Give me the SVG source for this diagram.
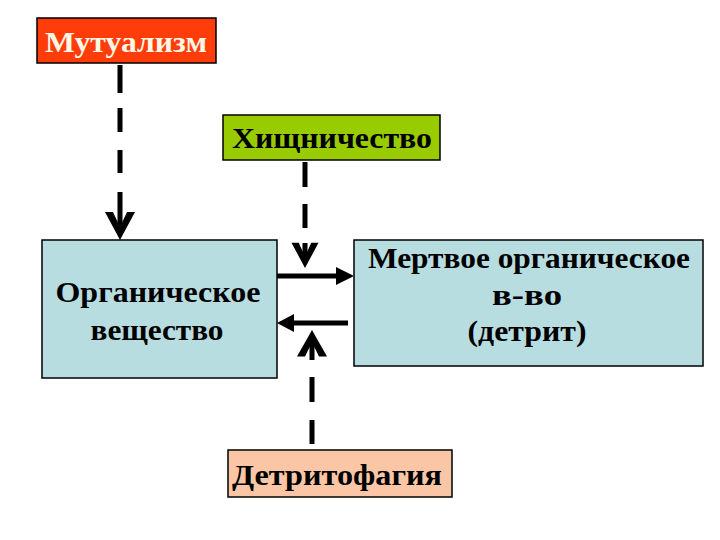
<svg xmlns="http://www.w3.org/2000/svg" width="720" height="540" viewBox="0 0 720 540">
<style>
.box{stroke:#000;stroke-width:1.5}
.t{font-family:"Liberation Serif","Times New Roman",serif;font-weight:bold;text-anchor:middle;font-size:30px}
.dash{stroke:#000;stroke-width:5;fill:none}
.head{fill:#000}
</style>
<defs>
<path id="chev" d="M-15,-28 L-7,-28 L0,-13 L7,-28 L15,-28 L0,0 Z"/>
</defs>
<rect width="720" height="540" fill="#fff"/>
<g id="connectors">
<g id="c-mutualism">
<path class="dash" d="M120,65 V93 M120,108 V132 M120,150 V173 M120,192 V232"/>
<use href="#chev" class="head" transform="translate(120,240)"/>
</g>
<g id="c-predation">
<path class="dash" d="M305,162 V187 M305,204 V228 M305,243 V262"/>
<use href="#chev" class="head" transform="translate(305,268) scale(0.9)"/>
</g>
<g id="c-detritophagy">
<path class="dash" d="M312,444 V420 M312,402 V377 M312,360 V338"/>
<use href="#chev" class="head" transform="translate(312,330) rotate(180) scale(1,0.95)"/>
</g>
<g id="c-right">
<path d="M270,276 H338" stroke="#000" stroke-width="5"/>
<path class="head" d="M336,267 L354,276 L336,285 Z"/>
</g>
<g id="c-left">
<path d="M348,323 H292" stroke="#000" stroke-width="5"/>
<path class="head" d="M294,314 L277,323 L294,332 Z"/>
</g>
</g>
<g id="n-mutualism">
<rect class="box" x="37" y="18" width="179" height="45" fill="#FF3D0A"/>
<text class="t" x="126" y="52" textLength="162" lengthAdjust="spacingAndGlyphs" fill="#FFF6E4">Мутуализм</text>
</g>
<g id="n-predation">
<rect class="box" x="223" y="115" width="217" height="45" fill="#99CC00"/>
<text class="t" x="332" y="148" textLength="200" lengthAdjust="spacingAndGlyphs" fill="#000">Хищничество</text>
</g>
<g id="n-organic">
<rect class="box" x="42" y="240" width="235" height="138" fill="#B8DDE1"/>
<text class="t" x="158" y="302" textLength="205" lengthAdjust="spacingAndGlyphs" fill="#000">Органическое</text>
<text class="t" x="157" y="340" textLength="133" lengthAdjust="spacingAndGlyphs" fill="#000">вещество</text>
</g>
<g id="n-dead">
<rect class="box" x="354" y="240" width="349" height="126" fill="#B8DDE1"/>
<text class="t" x="529" y="268" textLength="322" lengthAdjust="spacingAndGlyphs" fill="#000">Мертвое органическое</text>
<text class="t" x="527" y="305" textLength="70" lengthAdjust="spacingAndGlyphs" fill="#000">в-во</text>
<text class="t" x="527" y="341" textLength="119" lengthAdjust="spacingAndGlyphs" fill="#000">(детрит)</text>
</g>
<g id="n-detritophagy">
<rect class="box" x="228" y="450" width="224" height="47" fill="#FAC6A5"/>
<text class="t" x="337" y="485" textLength="210" lengthAdjust="spacingAndGlyphs" fill="#000">Детритофагия</text>
</g>
</svg>
